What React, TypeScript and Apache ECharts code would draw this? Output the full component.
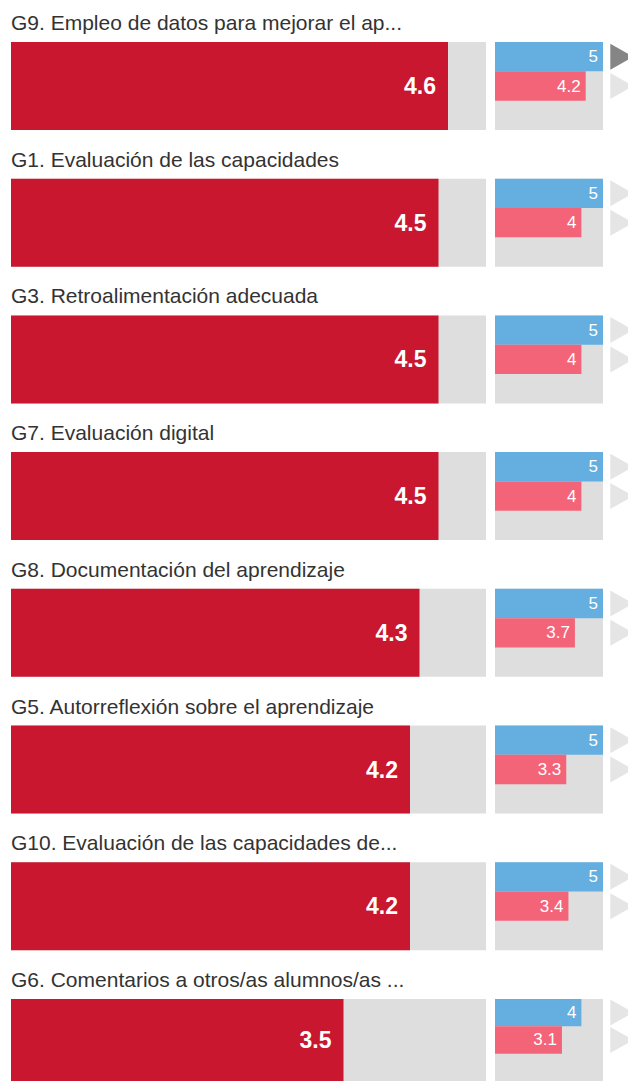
import React, { useEffect, useRef } from "react";
import * as echarts from "echarts";

const categories = [
  "G9. Empleo de datos para mejorar el ap...",
  "G1. Evaluación de las capacidades",
  "G3. Retroalimentación adecuada",
  "G7. Evaluación digital",
  "G8. Documentación del aprendizaje",
  "G5. Autorreflexión sobre el aprendizaje",
  "G10. Evaluación de las capacidades de...",
  "G6. Comentarios a otros/as alumnos/as ...",
];
const mainValues = [4.6, 4.5, 4.5, 4.5, 4.3, 4.2, 4.2, 3.5];
const blueValues = [5, 5, 5, 5, 5, 5, 5, 4];
const pinkValues = [4.2, 4, 4, 4, 3.7, 3.3, 3.4, 3.1];
const scaleMax = 5;

const RED = "#C8172E";
const BLUE = "#65AEE0";
const PINK = "#F46479";
const GREY = "#DEDEDE";
const FONT = "Liberation Sans, Arial, sans-serif";

export default function App() {
  const ref = useRef<HTMLDivElement>(null);
  useEffect(() => {
    if (!ref.current) return;
    const chart = echarts.init(ref.current, null, { renderer: "svg" });
    const top0 = 42;
    const step = 136.7;
    const barH = 88;
    const grids: any[] = [];
    const xAxes: any[] = [];
    const yAxes: any[] = [];
    const series: any[] = [];
    const titles: any[] = [];
    categories.forEach((cat, i) => {
      const top = top0 + i * step;
      titles.push({
        text: cat,
        left: 11,
        top: top - 30,
        padding: 0,
        textStyle: { fontFamily: FONT, fontSize: 21, fontWeight: "normal", color: "#333" },
      });
      const gl = i * 2;
      const gr = i * 2 + 1;
      grids.push({ left: 11, top, width: 475, height: barH });
      grids.push({ left: 495, top, width: 108, height: barH });
      xAxes.push({ type: "value", gridIndex: gl, min: 0, max: scaleMax, show: false });
      xAxes.push({ type: "value", gridIndex: gr, min: 0, max: scaleMax, show: false });
      const yl = yAxes.length;
      yAxes.push({ type: "category", gridIndex: gl, data: [cat], show: false });
      const yr = yAxes.length;
      yAxes.push({ type: "category", gridIndex: gr, data: ["a", "b", "c"], inverse: true, show: false });
      const yrb = yAxes.length;
      yAxes.push({ type: "category", gridIndex: gr, data: ["bg"], show: false });
      // left background
      series.push({
        type: "bar", xAxisIndex: gl, yAxisIndex: yl, data: [scaleMax], barWidth: "100%", barGap: "-100%",
        itemStyle: { color: GREY }, silent: true,
      });
      series.push({
        type: "bar", xAxisIndex: gl, yAxisIndex: yl, data: [mainValues[i]], barWidth: "100%", barGap: "-100%",
        itemStyle: { color: RED },
        label: {
          show: true, position: "insideRight", distance: 12, color: "#fff", fontSize: 23, fontWeight: "bold",
          fontFamily: FONT,
          formatter: (p: any) => String(p.value),
        },
      });
      // right background
      series.push({
        type: "bar", xAxisIndex: gr, yAxisIndex: yrb, data: [scaleMax], barWidth: "100%",
        itemStyle: { color: GREY }, silent: true, z: 1,
      });
      series.push({
        type: "bar", xAxisIndex: gr, yAxisIndex: yr, barWidth: "100%", barCategoryGap: 0, z: 3,
        data: [
          { value: blueValues[i], itemStyle: { color: BLUE } },
          { value: pinkValues[i], itemStyle: { color: PINK } },
          "-",
        ],
        label: {
          show: true, position: "insideRight", distance: 5, color: "#fff", fontSize: 17,
          fontFamily: FONT,
          formatter: (p: any) => String(p.value),
        },
      });
      series.push({
        type: "scatter", xAxisIndex: gr, yAxisIndex: yr, clip: false, silent: true,
        symbol: "triangle", symbolRotate: -90, symbolSize: [26, 23],
        data: [
          { value: [5.87, 0], itemStyle: { color: i === 0 ? "#666" : GREY } },
          { value: [5.87, 1], itemStyle: { color: GREY } },
        ],
      });
    });
    chart.setOption({
      animation: false,
      backgroundColor: "#fff",
      title: titles,
      grid: grids,
      xAxis: xAxes,
      yAxis: yAxes,
      series,
    });
    return () => chart.dispose();
  }, []);
  return <div ref={ref} style={{ position: "fixed", left: 0, top: 0, width: 628, height: 1081 }} />;
}
